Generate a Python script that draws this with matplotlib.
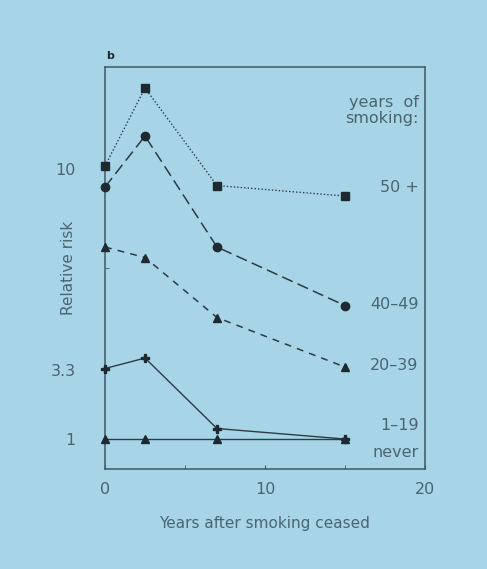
import matplotlib.pyplot as plt

# years after smoking ceased
years = [0, 2.5, 7, 15]

# relative risk by years of smoking
risk_50plus = [10.1, 12.7, 9.45, 9.1]
risk_40_49 = [9.4, 11.1, 7.4, 5.45]
risk_20_39 = [7.4, 7.05, 5.05, 3.4]
risk_1_19 = [3.35, 3.7, 1.35, 1.0]
risk_never = [1.0, 1.0, 1.0, 1.0]

group_labels = ['50 +', '40\u201349', '20\u201339', '1\u201319', 'never']
label_y = [9.4, 5.5, 3.45, 1.45, 0.55]

ytick_vals = [1, 3.3, 10]
ytick_labels = ['1', '3.3', '10']

bg = '#a8d4e8'
ink = '#1e2a30'
line_c = '#2c3c44'
txt = '#4a6570'
axc = '#3f5a63'

fig = plt.figure(figsize=(4.87, 5.69), dpi=100, facecolor=bg)
ax = fig.add_axes([0.2156, 0.1757, 0.657, 0.7065])
ax.set_facecolor(bg)

kw = dict(color=line_c, mfc=ink, mec=ink, clip_on=False, zorder=3)
ax.plot(years, risk_50plus, lw=1.0, ls=(0, (1, 1.5)), marker='s', ms=5.5, **kw)
ax.plot(years, risk_40_49, lw=1.1, ls=(0, (7.5, 3.5)), marker='o', ms=6, **kw)
ax.plot(years, risk_20_39, lw=1.1, ls=(0, (4.5, 4)), marker='^', ms=6, **kw)
ax.plot(years, risk_1_19, lw=1.0, ls='-', marker='P', ms=6, **kw)
ax.plot(years, risk_never, lw=1.0, ls='-', marker='^', ms=6, **kw)

for lab, yy in zip(group_labels, label_y):
    ax.text(19.6, yy, lab, ha='right', va='center', fontsize=11.5, color=txt)
ax.text(19.6, 11.95, 'years  of\nsmoking:', ha='right', va='center', fontsize=11.5,
        color=txt, linespacing=1.15)

ax.set_xlim(0, 20)
ax.set_ylim(0, 13.4)
ax.set_xticks([0, 10, 20])
ax.set_xticks([5, 15], minor=True)
ax.set_yticks(ytick_vals)
ax.set_yticklabels(ytick_labels)
ax.set_yticks([6.7], minor=True)
ax.tick_params(which='both', direction='in', length=3, color=axc, labelcolor=txt,
               labelsize=11.5)
ax.tick_params(axis='x', pad=9)
ax.tick_params(axis='y', pad=21)
for s in ax.spines.values():
    s.set_color(axc)
    s.set_linewidth(1.1)

ax.set_xlabel('Years after smoking ceased', fontsize=11, color=txt, labelpad=14)
ax.set_ylabel('Relative risk', fontsize=11, color=txt)
ax.yaxis.set_label_coords(-0.09, 0.5)
ax.text(0.005, 1.015, 'b', transform=ax.transAxes, fontsize=8, fontweight='bold',
        color=ink, va='bottom')

fig.savefig('out.png', dpi=100, facecolor=bg)
